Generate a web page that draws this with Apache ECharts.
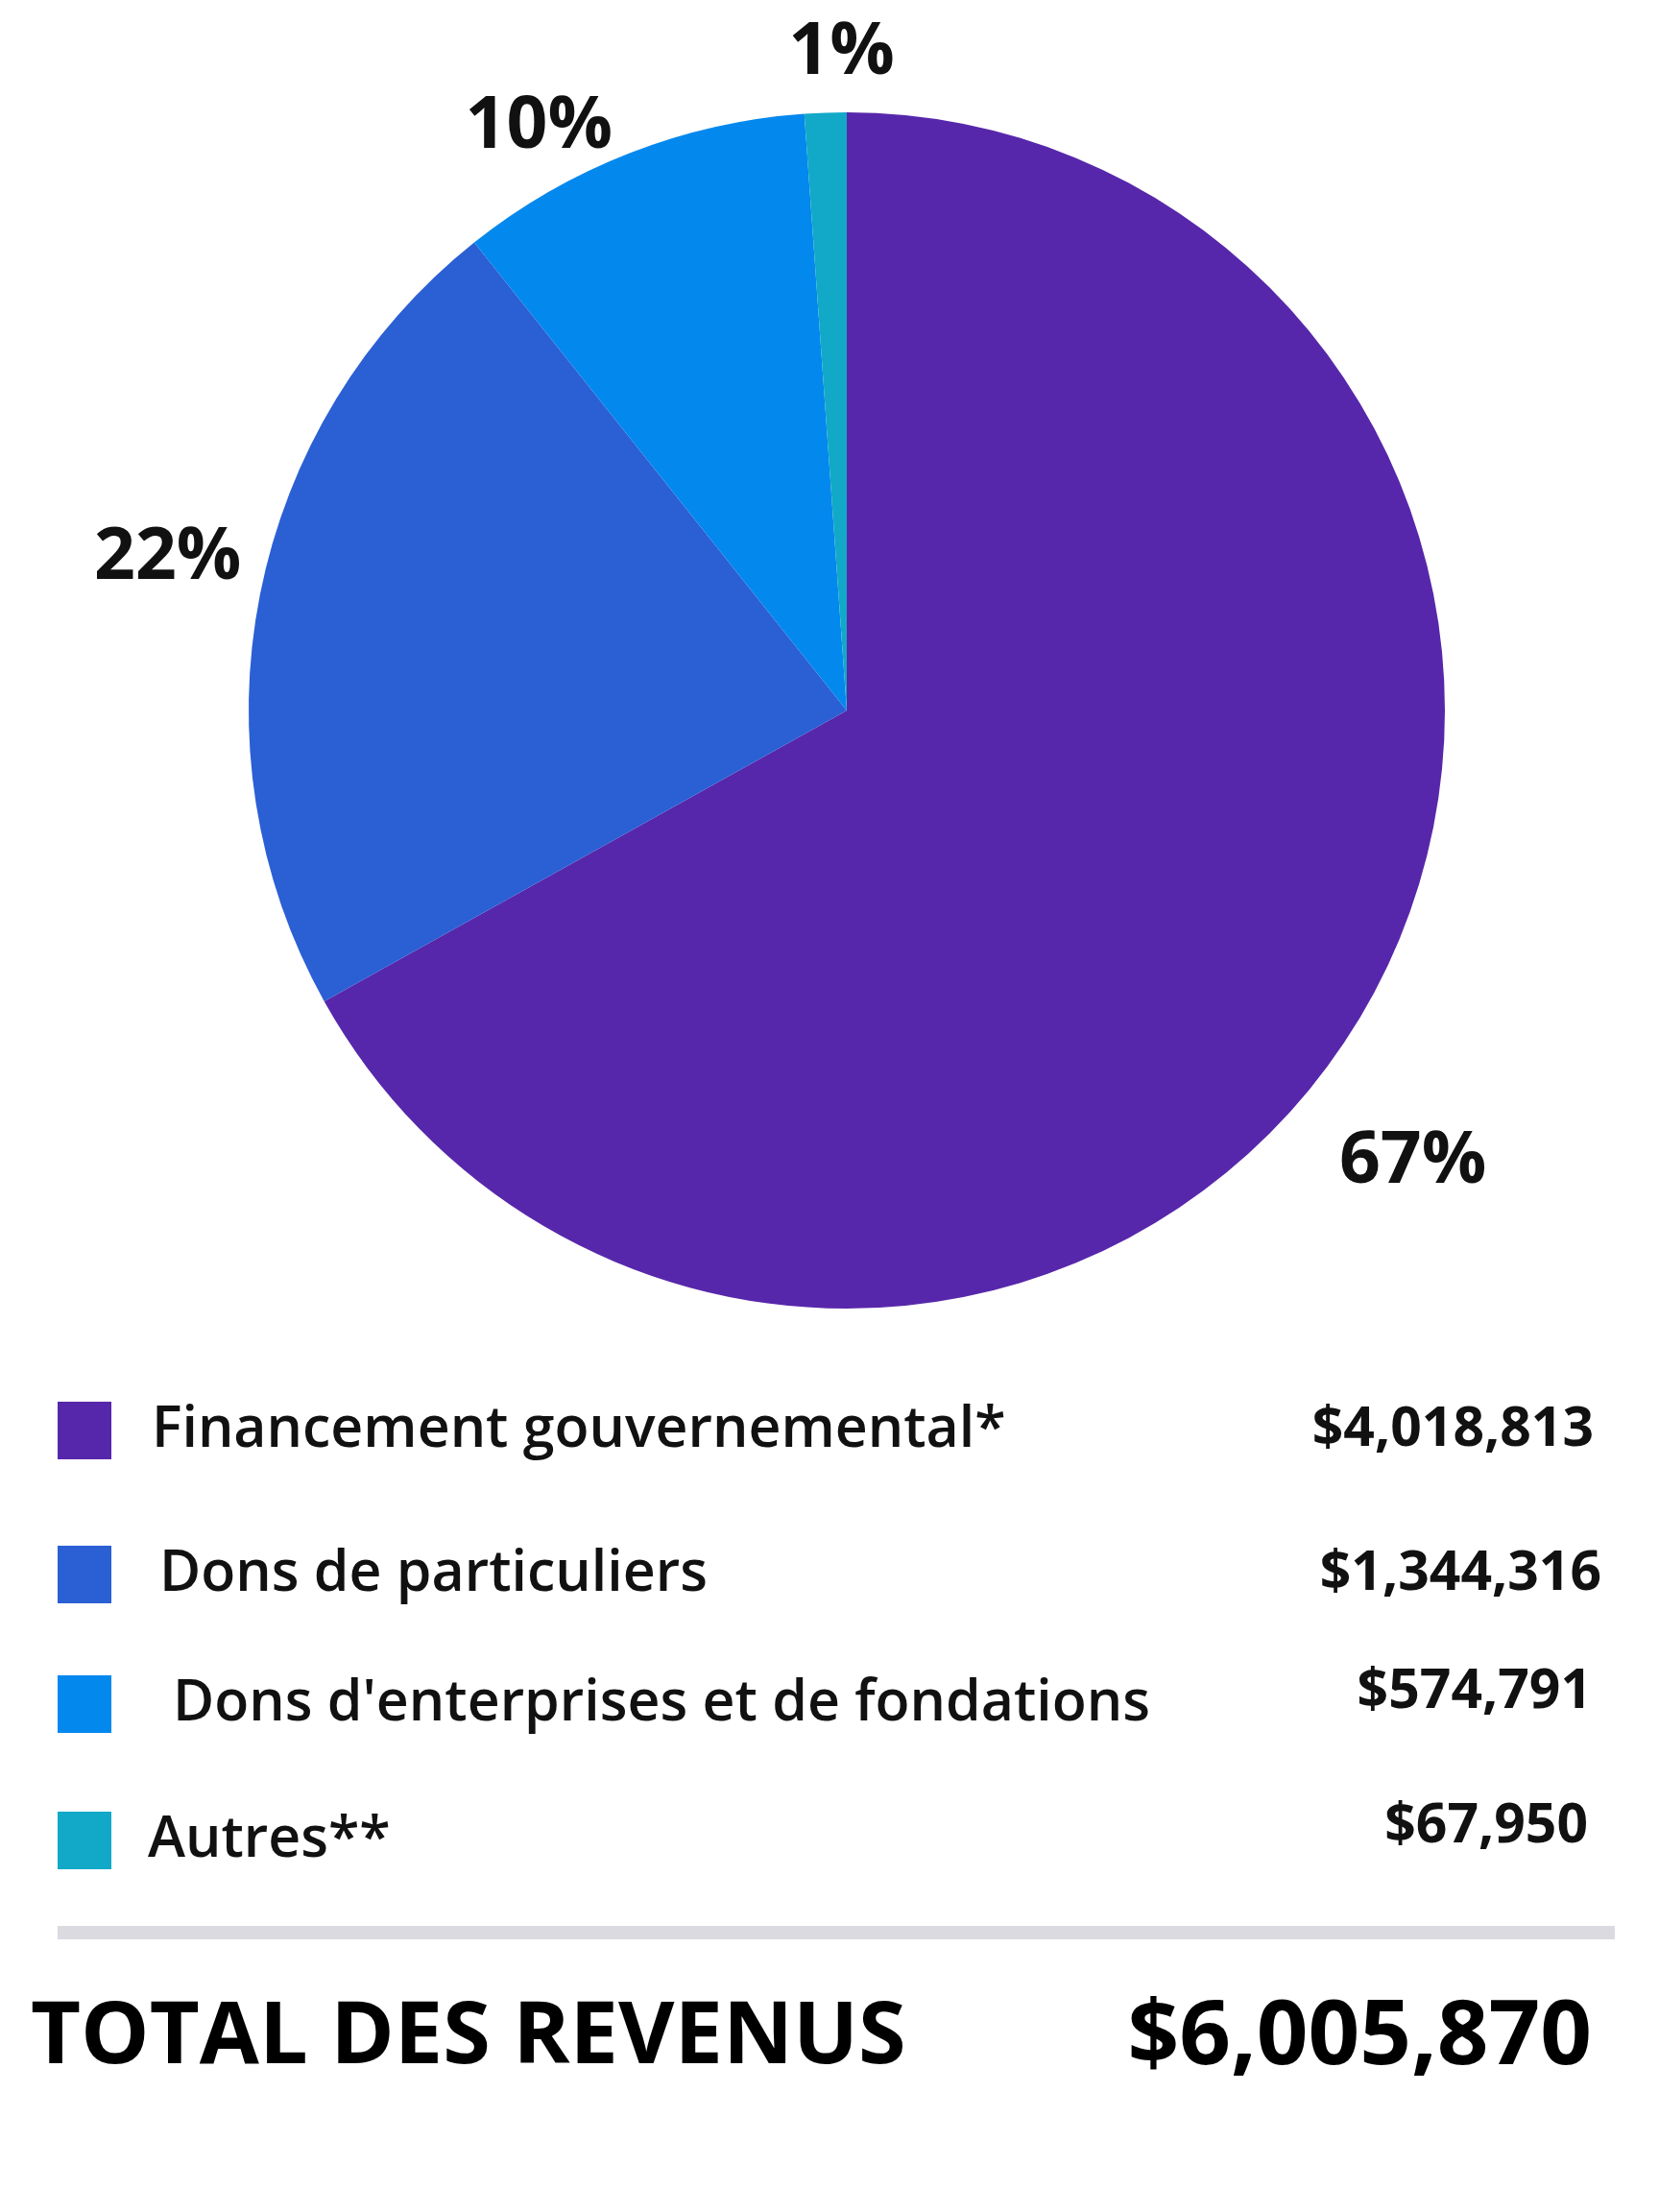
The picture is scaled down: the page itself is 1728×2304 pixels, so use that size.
<!DOCTYPE html>
<html>
<head>
<meta charset="utf-8">
<script src="https://cdn.jsdelivr.net/npm/echarts@6/dist/echarts.min.js"></script>
<style>
  html, body { margin: 0; padding: 0; background: #ffffff; }
  #chart { width: 1728px; height: 2304px; }
</style>
</head>
<body>
<div id="chart"></div>
<script>
// données
const categories = ["Financement gouvernemental*", "Dons de particuliers", "Dons d'enterprises et de fondations", "Autres**"];
const amounts = [4018813, 1344316, 574791, 67950];
const amountLabels = ["$4,018,813", "$1,344,316", "$574,791", "$67,950"];
const percentLabels = ["67%", "22%", "10%", "1%"];
const colors = ["#5727AB", "#2B5FD4", "#0388EE", "#12A9C8"];
const totalLabel = "TOTAL DES REVENUS";
const totalValue = "$6,005,870";

const font = "Open Sans";

// décalages des étiquettes de pourcentage
const labelOffsets = [[-55, 140], [10, -32], [115, -62], [78, -32]];

// légende construite à la main
const rowY = [1490, 1640, 1775, 1917];
const valueY = [1490, 1640, 1763, 1903];
const textX = [158, 166, 180, 154];
const valueRight = [1660, 1668, 1658, 1654];
let graphics = [];
categories.forEach((name, i) => {
  graphics.push({
    type: "rect",
    shape: { x: 60, y: rowY[i] - 30, width: 56, height: 60 },
    style: { fill: colors[i] }
  });
  graphics.push({
    type: "text",
    x: textX[i], y: rowY[i],
    style: { text: name, font: "600 59px '" + font + "'", fill: "#111", textVerticalAlign: "middle" }
  });
  graphics.push({
    type: "text",
    x: valueRight[i], y: valueY[i],
    style: { text: amountLabels[i], font: "bold 57px '" + font + "'", fill: "#111", textAlign: "right", textVerticalAlign: "middle" }
  });
});
graphics.push({
  type: "rect",
  shape: { x: 60, y: 2006, width: 1622, height: 14 },
  style: { fill: "#DADAE0" }
});
graphics.push({
  type: "text", x: 32, y: 2123,
  style: { text: totalLabel, font: "bold 90px '" + font + "'", fill: "#000", textVerticalAlign: "middle" }
});
graphics.push({
  type: "text", x: 1658, y: 2123,
  style: { text: totalValue, font: "bold 94px '" + font + "'", fill: "#000", textAlign: "right", textVerticalAlign: "middle" }
});

let options = {
  animation: false,
  graphic: graphics,
  series: [
    {
      type: "pie",
      center: [882, 740],
      radius: [0, 623],
      startAngle: 90,
      clockwise: true,
      color: colors,
      label: {
        show: true,
        position: "outside",
        formatter: (p) => percentLabels[p.dataIndex],
        fontFamily: font,
        fontWeight: "bold",
        fontSize: 75,
        color: "#111"
      },
      labelLine: { show: false, length: 30, length2: 0 },
      itemStyle: { borderWidth: 0 },
      data: categories.map((c, i) => ({
        name: c,
        value: amounts[i],
        label: { offset: labelOffsets[i] }
      }))
    }
  ]
};

let chart = echarts.init(document.getElementById("chart"));
chart.setOption(options);
</script>
</body>
</html>
